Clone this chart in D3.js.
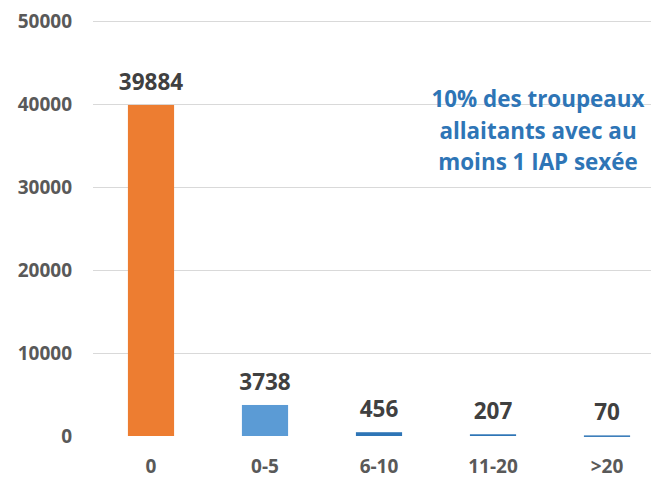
<!DOCTYPE html>
<html>
<head>
<meta charset="utf-8">
<script src="https://cdn.jsdelivr.net/npm/d3@7"></script>
<style>
  body { margin: 0; background: #fff; }
  svg { display: block; font-family: 'Open Sans', sans-serif; }
</style>
</head>
<body>
<svg></svg>
<script>
var width = 651;
var height = 477;

var categories = ['0', '0-5', '6-10', '11-20', '>20'];
var values = [39884, 3738, 456, 207, 70];
var colors = ['#ED7D31', '#5B9BD5', '#2E75B6', '#2E75B6', '#2E75B6'];
var yTicks = [0, 10000, 20000, 30000, 40000, 50000];
var note = ['10% des troupeaux', 'allaitants avec au', 'moins 1 IAP sexée'];

var svg = d3.select('svg')
    .attr('width', width)
    .attr('height', height);

var xScale = d3.scaleBand()
    .domain(categories)
    .range([94, 664])
    .paddingInner(0.595)
    .paddingOuter(0.2975);

var yScale = d3.scaleLinear()
    .domain([0, 50000])
    .range([436, 21]);

// gridlines
svg.append('g')
    .selectAll('line')
    .data(yTicks.filter(d => d > 0))
    .enter()
    .append('line')
    .attr('x1', 93)
    .attr('x2', width)
    .attr('y1', d => Math.round(yScale(d)) + 0.5)
    .attr('y2', d => Math.round(yScale(d)) + 0.5)
    .attr('stroke', '#d9d9d9')
    .attr('stroke-width', 1.2);

// y axis labels
var yAxis = d3.axisLeft(yScale)
    .tickValues(yTicks)
    .tickSize(0)
    .tickPadding(0)
    .tickFormat(d3.format('d'));

svg.append('g')
    .attr('transform', 'translate(72,0)')
    .call(yAxis)
    .call(g => g.select('.domain').remove())
    .selectAll('text')
    .attr('fill', '#595959')
    .style('font-size', '19px')
    .style('font-weight', 'bold')
    .style('font-family', "'Open Sans', sans-serif");

// bars
svg.selectAll('.bar')
    .data(values)
    .enter()
    .append('rect')
    .attr('class', 'bar')
    .attr('x', (d, i) => xScale(categories[i]))
    .attr('width', xScale.bandwidth())
    .attr('y', d => yScale(d))
    .attr('height', d => Math.max(yScale(0) - yScale(d), 1.5))
    .attr('fill', (d, i) => colors[i]);

// value labels
svg.selectAll('.val')
    .data(values)
    .enter()
    .append('text')
    .attr('class', 'val')
    .attr('x', (d, i) => xScale(categories[i]) + xScale.bandwidth() / 2)
    .attr('y', d => yScale(d) - 15)
    .attr('text-anchor', 'middle')
    .attr('fill', '#404040')
    .style('font-size', '22.5px')
    .style('font-weight', 'bold')
    .text(d => d);

// x axis
var xAxis = d3.axisBottom(xScale)
    .tickSize(0)
    .tickPadding(0);

svg.append('g')
    .attr('transform', 'translate(0,459)')
    .call(xAxis)
    .call(g => g.select('.domain').remove())
    .selectAll('text')
    .attr('fill', '#595959')
    .style('font-size', '19px')
    .style('font-weight', 'bold')
    .style('font-family', "'Open Sans', sans-serif");

// annotation
svg.append('text')
    .attr('x', 538)
    .attr('y', 107)
    .attr('text-anchor', 'middle')
    .attr('fill', '#2E75B6')
    .style('font-size', '22.4px')
    .style('font-weight', 'bold')
    .selectAll('tspan')
    .data(note)
    .enter()
    .append('tspan')
    .attr('x', 538)
    .attr('dy', (d, i) => i === 0 ? 0 : 31.5)
    .text(d => d);
</script>
</body>
</html>
